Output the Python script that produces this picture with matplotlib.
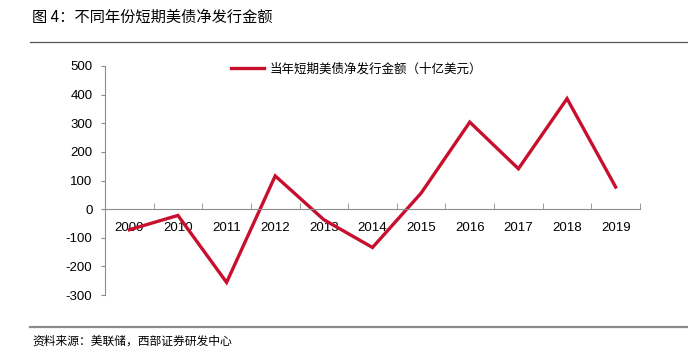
import matplotlib
matplotlib.use("Agg")
import matplotlib.pyplot as plt
import numpy as np

plt.rcParams['font.family'] = ['Liberation Sans', 'Noto Sans CJK SC', 'DejaVu Sans']

years = ["2009", "2010", "2011", "2012", "2013", "2014", "2015", "2016", "2017", "2018", "2019"]
net_issue = [-72, -22, -256, 116, -37, -134, 56, 304, 141, 386, 77]
yticks = [-300, -200, -100, 0, 100, 200, 300, 400, 500]

title = "图 4：不同年份短期美债净发行金额"
series_name = "当年短期美债净发行金额（十亿美元）"
source = "资料来源：美联储，西部证券研发中心"

cjk = ['Noto Sans CJK SC', 'DejaVu Sans']
red = "#C8102E"
grey = "#8c8c8c"

fig = plt.figure(figsize=(6.88, 3.63), dpi=100)
ax = fig.add_axes([105 / 688, 1 - 295 / 363, 535 / 688, 229 / 363])

x = np.arange(len(years))
ax.plot(x, net_issue, color=red, lw=2.4, solid_joinstyle="miter", label=series_name)

ax.set_xlim(-0.5, len(years) - 0.5)
ax.set_ylim(-300, 500)
ax.set_yticks(yticks)
ax.set_yticklabels([str(v) for v in yticks], fontsize=9.5)

ax.spines["top"].set_visible(False)
ax.spines["right"].set_visible(False)
ax.spines["bottom"].set_position(("data", 0))
for s in ("left", "bottom"):
    ax.spines[s].set_color(grey)
    ax.spines[s].set_linewidth(0.8)

ax.set_xticks(x)
ax.set_xticklabels(years, fontsize=9.5)
ax.set_xticks(np.arange(-0.5, len(years)), minor=True)
ax.tick_params(axis="x", which="major", length=0, pad=9)
ax.tick_params(axis="x", which="minor", direction="in", length=4, color=grey)
ax.tick_params(axis="y", direction="out", length=3, color=grey, pad=6)

leg = ax.legend(loc="upper left", bbox_to_anchor=(0.215, 1.065), frameon=False,
                handlelength=2.6, handletextpad=0.5, prop={'family': cjk, 'size': 9})

fig.text(32 / 688, 1 - 17 / 363, title, fontsize=11, family=cjk, va="center", ha="left")
fig.add_artist(plt.Line2D([30 / 688, 1], [1 - 42 / 363] * 2, color="#555555", lw=0.9))
fig.add_artist(plt.Line2D([30 / 688, 1], [1 - 327 / 363] * 2, color=grey, lw=1.6))
fig.text(32 / 688, 1 - 341 / 363, source, fontsize=8.5, family=cjk, va="center", ha="left")

fig.savefig("out.png", dpi=100)
